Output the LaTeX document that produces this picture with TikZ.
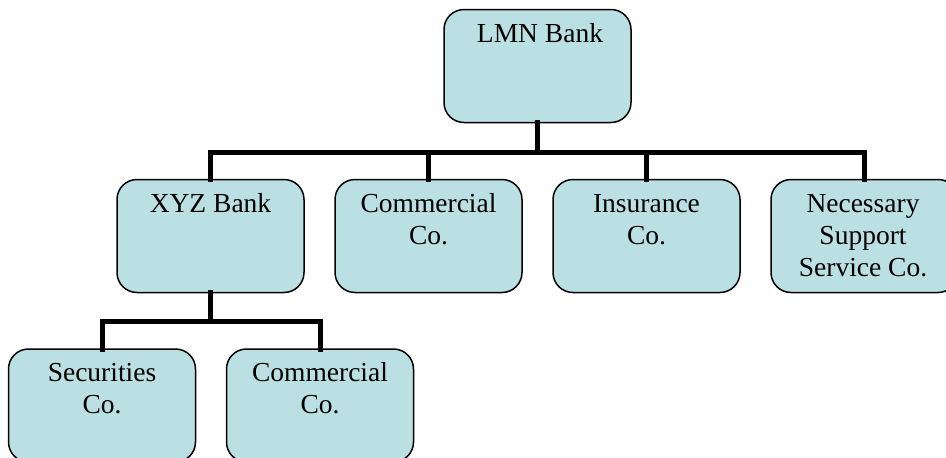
\documentclass[tikz,border=0pt]{standalone}
\usepackage{fontspec}
\setmainfont{Liberation Serif}
\usetikzlibrary{calc}
\definecolor{boxfill}{RGB}{187,224,227}
\begin{document}
\begin{tikzpicture}[x=1pt,y=-1pt,
  orgbox/.style={draw=black, line width=1.5pt, fill=boxfill, rounded corners=20pt,
    minimum width=187pt, minimum height=113pt, inner sep=0pt, outer sep=0pt},
  conn/.style={line width=5pt, line join=miter, line cap=rect},
  lbl/.style={align=center, anchor=north, inner sep=0pt, font=\fontsize{27.5}{32}\selectfont}]
\useasboundingbox (0,0) rectangle (946,458);
\begin{scope}
\clip (0,0) rectangle (946,458);
\node[orgbox] (lmn) at (537.5,66) {};
\node[orgbox] (xyz) at (210.5,236) {};
\node[orgbox] (com1) at (428.5,236) {};
\node[orgbox] (ins) at (646.5,236) {};
\node[orgbox] (nss) at (864.5,236) {};
\node[orgbox] (sec) at (102,405.5) {};
\node[orgbox] (com2) at (320,405.5) {};
\end{scope}
\node[lbl] (tlmn) at (540,42-22.4) {\strut LMN Bank};
\node[lbl] (txyz) at (210.5,212-22.4) {\strut XYZ Bank};
\node[lbl] (tcom1) at (428.5,212-22.4) {\strut Commercial\\Co.};
\node[lbl] (tins) at (646.5,212-22.4) {\strut Insurance\\Co.};
\node[lbl] (tnss) at (863,212-22.4) {\strut Necessary\\Support\\Service Co.};
\node[lbl] (tsec) at (102,381-22.4) {\strut Securities\\Co.};
\node[lbl] (tcom2) at (320,381-22.4) {\strut Commercial\\Co.};
\coordinate (b1) at (537.5,152);
\coordinate (b2) at (210.5,321);
\draw[conn] (lmn.south) -- (b1);
\draw[conn] (xyz.north) |- (b1) -| (nss.north);
\draw[conn] (com1.north) -- (com1.north |- b1);
\draw[conn] (ins.north) -- (ins.north |- b1);
\draw[conn] (xyz.south) -- (b2);
\draw[conn] (sec.north) |- (b2) -| (com2.north);
\end{tikzpicture}
\end{document}
